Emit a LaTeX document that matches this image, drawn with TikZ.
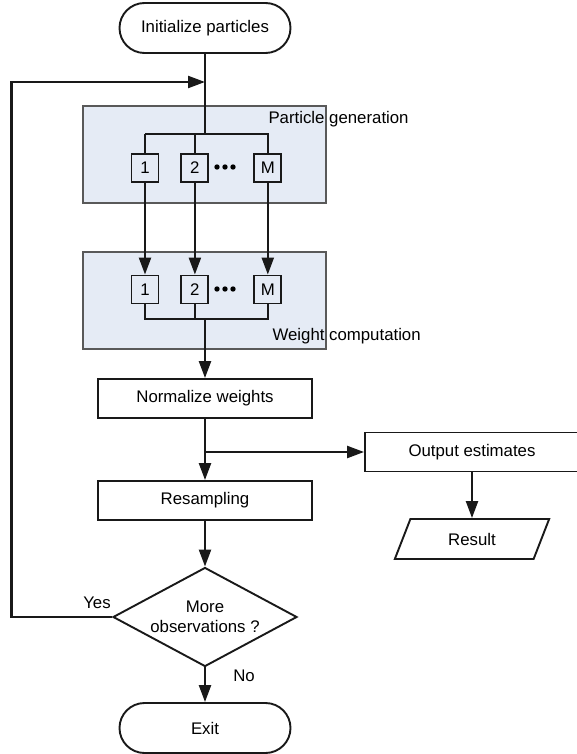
\documentclass[tikz,border=0pt]{standalone}
\usepackage{fontspec}
\setmainfont{Liberation Sans}
\usepackage{tikz}
\usetikzlibrary{arrows.meta,shapes,positioning}
\definecolor{stagefill}{RGB}{229,235,245}
\tikzstyle{arrow}=[-{Triangle[length=17pt,width=12pt]},line width=2.3pt,draw=black!90]
\tikzstyle{line}=[line width=2.3pt,draw=black!90]
\tikzstyle{terminal}=[rounded rectangle,draw=black!90,line width=1.9pt,
  			  minimum width=171pt,minimum height=50pt,inner sep=0pt]
\tikzstyle{process}=[rectangle,draw=black!90,line width=1.9pt,
  			  minimum width=214pt,minimum height=39pt,inner sep=0pt]
\tikzstyle{particle}=[rectangle,draw=black!90,line width=1.9pt,
  			  minimum width=27pt,minimum height=28pt,inner sep=0pt]
\tikzstyle{stage}=[rectangle,draw=black!65,fill=stagefill,line width=1.1pt,
  			  minimum width=243pt,minimum height=97pt]
\tikzstyle{decision}=[diamond,draw=black!90,line width=1.9pt,aspect=1.86,
  			  inner sep=0pt,minimum width=184pt,minimum height=99pt,align=center]
\tikzstyle{io}=[trapezium,trapezium left angle=64,trapezium right angle=116,
  			  trapezium stretches=true,draw=black!90,line width=1.9pt,
  			  minimum width=155pt,minimum height=40pt,inner sep=0pt]

\begin{document}
\begin{tikzpicture}[x=1pt,y=-1pt,font=\fontsize{16.8}{20}\selectfont]
  \clip (0,0) rectangle (577,754);

	% stages
	\node[stage] (gen) at (204.5,154.5) {};
	\node[stage] (wgt) at (204.5,300.5) {};
	\node[anchor=west] (genlabel) at (265,119) {Particle generation};
	\node[anchor=west] (wgtlabel) at (269,336) {Weight computation};

	\node[terminal] (init) at (205,28) {Initialize particles};
	\coordinate (join) at (205,82);
	\coordinate (loopc) at (11.5,82);
	\coordinate (gsplit) at (205,135);

	\node[particle] (g1) at (145,168) {1};
	\node[particle] (g2) [right=21pt of g1] {2};
	\node[particle] (gM) [right=44pt of g2] {M};
	\node[particle] (w1) at (145,289.5) {1};
	\node[particle] (w2) [right=21pt of w1] {2};
	\node[particle] (wM) [right=44pt of w2] {M};
	\foreach \n in {0,1,2} {
	  \fill (217+\n*8,167) circle (2.7pt);
	  \fill (217+\n*8,289) circle (2.7pt);
	}
	\coordinate (wmerge) at (205,319);

	\node[process] (norm) at (205,398.5) {Normalize weights};
	\coordinate (obranch) at (205,452);
	\node[process] (resamp) at (205,500.5) {Resampling};
	\node[process] (out) at (472,452) {Output estimates};
	\node[io] (res) at (472,539) {Result};
	\node[decision] (dec) at (205,617) {More\\observations ?};
	\node[terminal] (exit) at (205,728) {Exit};
	\node (yes) at (97,603) {Yes};
	\node (no) at (244,676) {No};

  \path [line] (init) edge (gsplit);
  \path [line] (g1.north) edge ++(0,-19);
  \draw [line] (g1.north) ++(0,-19) -| (gM.north);
  \path [line] (g2.north) edge (g2.north |- gsplit);
  \foreach \i in {1,2,M}
    \draw [arrow] (g\i) -- (w\i);
  \draw [line] (w1.south) -- (w1.south |- wmerge) -| (wM.south);
  \path [line] (w2.south) edge (w2.south |- wmerge);
  \draw [arrow] (wmerge) -- (norm);
  \draw [arrow] (norm) -- (resamp);
  \draw [arrow] (obranch) -- (out.west);
  \draw [arrow] (out) -- (res);
  \draw [arrow] (resamp) -- (dec);
  \draw [arrow] (dec) -- (exit);
  \draw [arrow] (dec.west) -| (loopc) -- (join);
\end{tikzpicture}
\end{document}
